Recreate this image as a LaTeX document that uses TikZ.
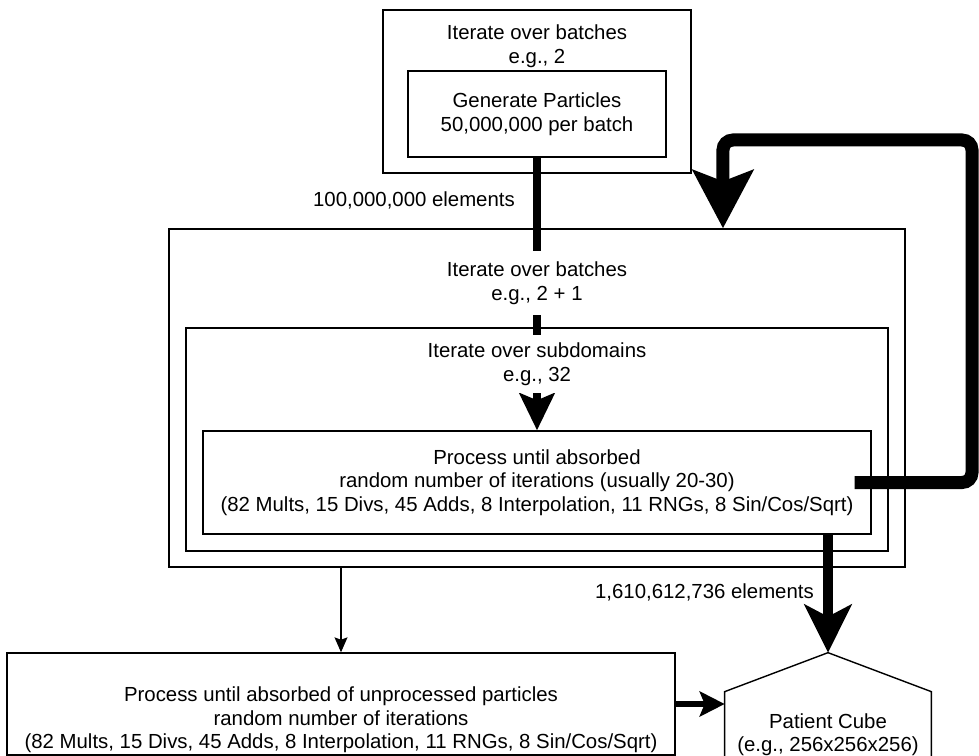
\documentclass[tikz,border=0pt]{standalone}
\usepackage{fontspec}
\setmainfont{Liberation Sans}
\usetikzlibrary{arrows.meta}

\begin{document}
\begin{tikzpicture}[x=0.02cm,y=-0.02cm,
    every node/.style={font=\fontsize{11.6}{13.4}\selectfont, align=center},
    box/.style={draw, line width=0.8pt, inner sep=0pt},
    heading/.style={fill=white, inner sep=0pt, minimum width=4cm},
    flow/.style={draw, line width=0.16cm, -{Stealth[length=0.74cm,width=0.7cm,inset=0.14cm]}},
    bigflow/.style={draw, line width=0.21cm, -{Stealth[length=0.96cm,width=0.94cm,inset=0.24cm]}},
    back/.style={draw, line width=0.26cm, rounded corners=0.2cm, -{Stealth[length=1.16cm,width=1.2cm,inset=0.22cm]}},
    side/.style={draw, line width=0.11cm, -{Stealth[length=0.5cm,width=0.5cm,inset=0.1cm]}},
    thinflow/.style={draw, line width=0.6pt, -{Stealth[length=0.3cm,width=0.26cm,inset=0.05cm]}}]

    \useasboundingbox (0,0) rectangle (979,756);

    % generation stage
    \node[box, minimum width=6.16cm, minimum height=3.26cm] (outer) at (537,91.5) {};
    \node (outerT) at (537,46.5) {Iterate over batches\\e.g., 2};
    \node[box, minimum width=5.16cm, minimum height=1.72cm] (gen) at (537,114) {Generate Particles\\50,000,000 per batch};

    % transport stage
    \node[box, minimum width=14.72cm, minimum height=6.76cm] (big) at (537,398) {};
    \node[box, minimum width=14.04cm, minimum height=4.46cm] (sub) at (537,439.5) {};
    \node[box, minimum width=13.36cm, minimum height=2.06cm] (proc) at (537,482.5)
        {Process until absorbed\\random number of iterations (usually 20-30)\\(82 Mults, 15 Divs, 45 Adds, 8 Interpolation, 11 RNGs, 8 Sin/Cos/Sqrt)};

    \node[box, minimum width=13.36cm, minimum height=2.04cm] (rest) at (341,704) {};
    \node (restT) at (341,720) {Process until absorbed of unprocessed particles\\random number of iterations\\(82 Mults, 15 Divs, 45 Adds, 8 Interpolation, 11 RNGs, 8 Sin/Cos/Sqrt)};

    \node[inner sep=0pt, minimum width=4.12cm, minimum height=1.7cm] (cube) at (828,734.5) {Patient Cube\\(e.g., 256x256x256)};
    \coordinate (apex) at ([yshift=0.78cm]cube.north);
    \draw[box] (cube.south west) -- (cube.north west) -- (apex) -- (cube.north east) -- (cube.south east);

    \path[flow] (gen.south) -- (proc.north);
    \node[heading, minimum height=1.3cm] (bigT) at (537,283) {Iterate over batches\\e.g., 2 + 1};
    \node[heading, minimum height=1.16cm] (subT) at (537,364) {Iterate over subdomains\\e.g., 32};

    \path[bigflow] (proc.south -| apex) -- (apex);
    \path[side] (rest.east) -- (rest.east -| cube.west);
    \path[thinflow] (big.south -| rest.north) -- (rest.north);

    \coordinate (turn) at (972,140);
    \path[back] ([xshift=-0.34cm]proc.east) -| (turn) -| ([xshift=3.72cm]big.north);

    \node[anchor=east] (n100) at (521,200) {100,000,000 elements};
    \node[anchor=east] (n161) at (820,592) {1,610,612,736 elements};
\end{tikzpicture}
\end{document}
